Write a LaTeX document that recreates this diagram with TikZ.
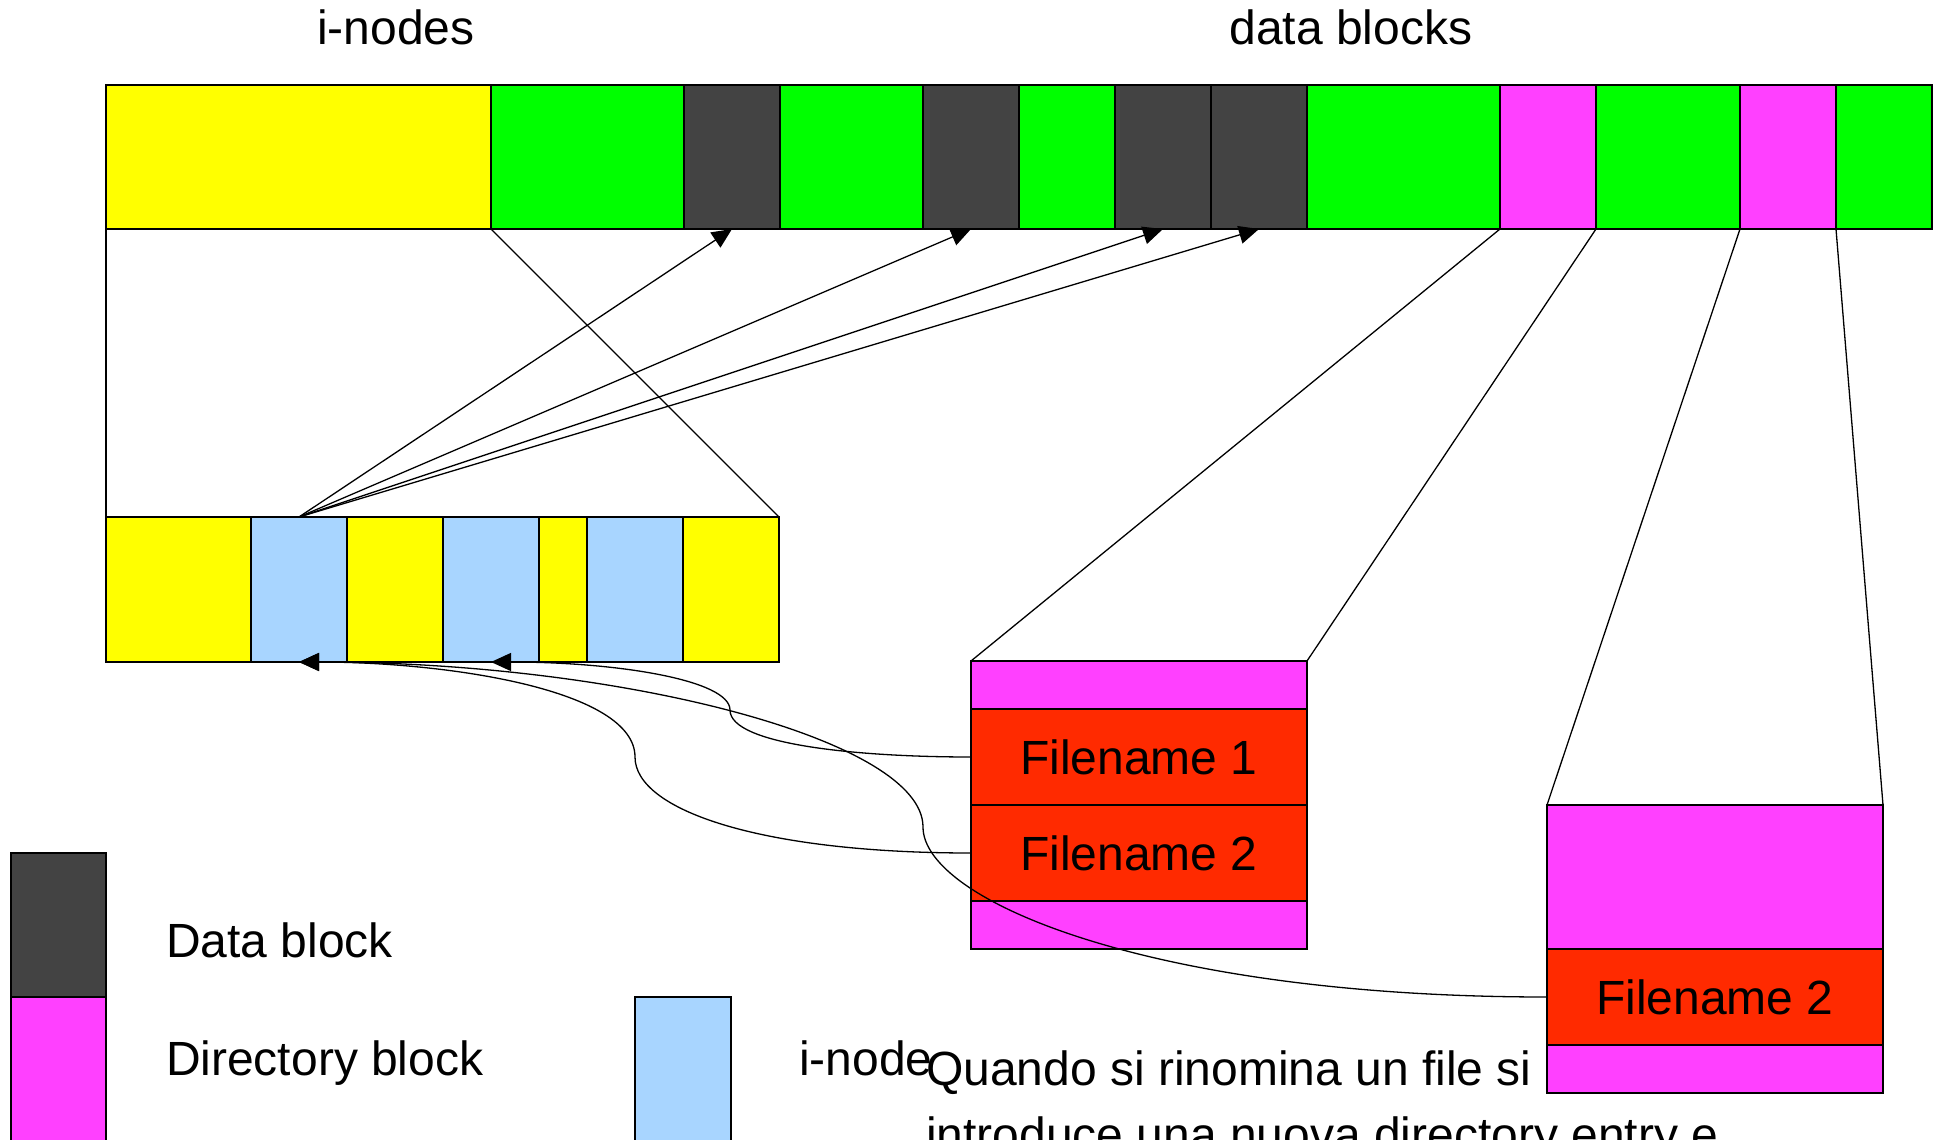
\documentclass[tikz,border=0pt]{standalone}
\usepackage{fontspec}
\setmainfont{Liberation Sans}
\usetikzlibrary{arrows.meta}
\definecolor{cyel}{HTML}{FFFF00}
\definecolor{cgrn}{HTML}{00FF00}
\definecolor{cdark}{HTML}{434343}
\definecolor{cmag}{HTML}{FF40FF}
\definecolor{cblu}{HTML}{A8D5FF}
\definecolor{cred}{HTML}{FF2A00}
\begin{document}
\begin{tikzpicture}[x=1pt,y=-1pt,
 cell/.style={draw=black, line width=1.5pt, inner sep=0pt, outer sep=0pt, anchor=north west},
 lbl/.style={font=\fontsize{48}{57}\selectfont, inner sep=0pt, outer sep=0pt},
 conn/.style={line width=1.3pt},
 arr/.style={conn, -{Triangle[length=20pt,width=18pt]}}]
\useasboundingbox (0,0) rectangle (1939,1140);
\clip (0,0) rectangle (1939,1140);
\fill[white] (0,0) rectangle (1939,1140);
% titles
\node[lbl, anchor=base] (h1) at (396,45) {i-nodes};
\node[lbl, anchor=base] (h2) at (1351,45) {data blocks};
% top bar
\node[cell, fill=cyel, minimum width=385pt, minimum height=144pt] (t1) at (106,85) {};
\node[cell, fill=cgrn, minimum width=193pt, minimum height=144pt] (t2) at (491,85) {};
\node[cell, fill=cdark, minimum width=96pt, minimum height=144pt] (t3) at (684,85) {};
\node[cell, fill=cgrn, minimum width=143pt, minimum height=144pt] (t4) at (780,85) {};
\node[cell, fill=cdark, minimum width=96pt, minimum height=144pt] (t5) at (923,85) {};
\node[cell, fill=cgrn, minimum width=96pt, minimum height=144pt] (t6) at (1019,85) {};
\node[cell, fill=cdark, minimum width=96pt, minimum height=144pt] (t7) at (1115,85) {};
\node[cell, fill=cdark, minimum width=96pt, minimum height=144pt] (t8) at (1211,85) {};
\node[cell, fill=cgrn, minimum width=193pt, minimum height=144pt] (t9) at (1307,85) {};
\node[cell, fill=cmag, minimum width=96pt, minimum height=144pt] (t10) at (1500,85) {};
\node[cell, fill=cgrn, minimum width=144pt, minimum height=144pt] (t11) at (1596,85) {};
\node[cell, fill=cmag, minimum width=96pt, minimum height=144pt] (t12) at (1740,85) {};
\node[cell, fill=cgrn, minimum width=96pt, minimum height=144pt] (t13) at (1836,85) {};
% small bar
\node[cell, fill=cyel, minimum width=145pt, minimum height=145pt] (s1) at (106,517) {};
\node[cell, fill=cblu, minimum width=96pt, minimum height=145pt] (s2) at (251,517) {};
\node[cell, fill=cyel, minimum width=96pt, minimum height=145pt] (s3) at (347,517) {};
\node[cell, fill=cblu, minimum width=96pt, minimum height=145pt] (s4) at (443,517) {};
\node[cell, fill=cyel, minimum width=48pt, minimum height=145pt] (s5) at (539,517) {};
\node[cell, fill=cblu, minimum width=96pt, minimum height=145pt] (s6) at (587,517) {};
\node[cell, fill=cyel, minimum width=96pt, minimum height=145pt] (s7) at (683,517) {};
% directory block 1
\node[cell, fill=cmag, minimum width=336pt, minimum height=48pt] (d1a) at (971,661) {};
\node[cell, fill=cred, minimum width=336pt, minimum height=96pt, lbl] (d1b) at (971,709) {Filename 1};
\node[cell, fill=cred, minimum width=336pt, minimum height=96pt, lbl] (d1c) at (971,805) {Filename 2};
\node[cell, fill=cmag, minimum width=336pt, minimum height=48pt] (d1d) at (971,901) {};
% directory block 2
\node[cell, fill=cmag, minimum width=336pt, minimum height=144pt] (d2a) at (1547,805) {};
\node[cell, fill=cred, minimum width=336pt, minimum height=96pt, lbl] (d2b) at (1547,949) {Filename 2};
\node[cell, fill=cmag, minimum width=336pt, minimum height=48pt] (d2c) at (1547,1045) {};
% legend
\node[cell, fill=cdark, minimum width=95pt, minimum height=144pt] (g1) at (11,853) {};
\node[cell, fill=cmag, minimum width=95pt, minimum height=150pt] (g2) at (11,997) {};
\node[cell, fill=cblu, minimum width=96pt, minimum height=150pt] (g3) at (635,997) {};
\node[lbl, anchor=base west] (l1) at (166,957) {Data block};
\node[lbl, anchor=base west] (l2) at (166,1075) {Directory block};
\node[lbl, anchor=base west] (l3) at (799,1075) {i-node};
\node[lbl, anchor=base west] (q1) at (926,1085) {Quando si rinomina un file si};
\node[lbl, anchor=base west] (q2) at (926,1151) {introduce una nuova directory entry e};
% zoom lines
\draw[conn] (t1.south west) -- (s1.north west);
\draw[conn] (t1.south east) -- (s7.north east);
\draw[conn] (t10.south west) -- (d1a.north west);
\draw[conn] (t10.south east) -- (d1a.north east);
\draw[conn] (t12.south west) -- (d2a.north west);
\draw[conn] (t12.south east) -- (d2a.north east);
% pointers to data blocks
\draw[arr] (s2.north) -- (t3.south);
\draw[arr] (s2.north) -- (t5.south);
\draw[arr] (s2.north) -- (t7.south);
\draw[arr] (s2.north) -- (t8.south);
% directory entries to i-nodes
\coordinate (m1) at (730,710);
\coordinate (m2) at (635,757);
\coordinate (m3) at (923,827);
\draw[arr] (d1b.west) .. controls +(-111,0) and +(0,35) .. (m1) .. controls +(0,-30) and +(126,0) .. (s4.south);
\draw[arr] (d1c.west) .. controls +(-211,0) and +(0,53) .. (m2) .. controls +(0,-67) and +(150,0) .. (s2.south);
\draw[arr] (d2b.west) .. controls +(-397,0) and +(0,73) .. (m3) .. controls +(0,-87) and +(323,0) .. (s2.south);
\end{tikzpicture}
\end{document}
